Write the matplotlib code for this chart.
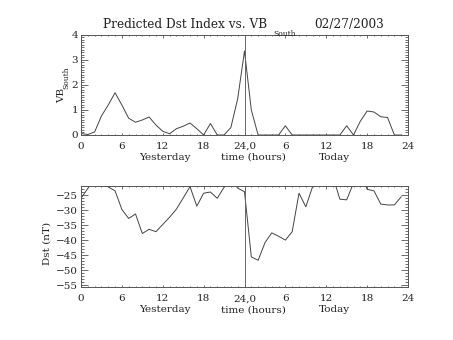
import numpy as np
import matplotlib.pyplot as plt
import matplotlib.transforms as mtransforms
from matplotlib.ticker import MultipleLocator

# hourly values, yesterday 0-23 then today 0-23
hours = np.arange(48)
vb_south = [0.06, 0.02, 0.12, 0.76, 1.2, 1.69, 1.2, 0.67, 0.51, 0.6, 0.72, 0.4,
            0.15, 0.05, 0.25, 0.35, 0.48, 0.25, 0.0, 0.46, 0.0, 0.0, 0.3, 1.45,
            3.36, 1.0, 0.0, 0.0, 0.0, 0.0, 0.37, 0.0, 0.0, 0.0, 0.0, 0.0,
            0.0, 0.0, 0.0, 0.37, 0.0, 0.55, 0.96, 0.92, 0.73, 0.7, 0.0, 0.0]
dst = [-26.1, -22.8, -20.0, -20.0, -22.3, -23.6, -29.8, -32.8, -31.3, -37.8, -36.4, -37.2,
       -34.8, -32.4, -29.7, -26.0, -22.2, -28.7, -24.4, -24.0, -26.1, -22.4, -20.0, -22.7,
       -23.9, -45.6, -46.7, -40.9, -37.6, -38.7, -40.0, -37.2, -24.4, -28.9, -22.2, -20.0,
       -20.0, -19.0, -26.4, -26.6, -21.0, -16.0, -23.1, -23.6, -28.0, -28.3, -28.3, -25.6]

tick_pos = [0, 6, 12, 18, 24, 30, 36, 42, 48]
tick_labels = ['0', '6', '12', '18', '24,0', '6', '12', '18', '24']
day_labels = [(12.3, 'Yesterday'), (25.3, 'time (hours)'), (37.2, 'Today')]

W, H = 453, 340
ink = '#444444'
frame = '#555555'
plt.rcParams['font.family'] = 'DejaVu Serif'
plt.rcParams['font.size'] = 7.5

fig = plt.figure(figsize=(W / 100, H / 100), dpi=100)
ax1 = fig.add_axes([81 / W, 1 - 135 / H, 327 / W, 100 / H])
ax2 = fig.add_axes([81 / W, 1 - 287.3 / H, 327 / W, 101.3 / H])


def style_axis(ax, ylim, ymajor, yminor):
    ax.set_xlim(0, 48)
    ax.set_ylim(*ylim)
    ax.axvline(24, color='#666666', lw=0.7)
    ax.set_xticks(tick_pos)
    ax.set_xticklabels(tick_labels)
    ax.xaxis.set_minor_locator(MultipleLocator(1))
    ax.yaxis.set_major_locator(MultipleLocator(ymajor))
    ax.yaxis.set_minor_locator(MultipleLocator(yminor))
    ax.tick_params(which='both', direction='in', top=True, right=True,
                   color=frame, width=0.6, labelcolor='#222222')
    ax.tick_params(axis='x', which='major', length=1.8, pad=5)
    ax.tick_params(axis='x', which='minor', length=0.9)
    ax.tick_params(axis='y', which='major', length=4.7, pad=2)
    ax.tick_params(axis='y', which='minor', length=2.4)
    for sp in ax.spines.values():
        sp.set_color(frame)
        sp.set_linewidth(0.7)
    trans = mtransforms.blended_transform_factory(ax.transData, ax.transAxes)
    ybase = -25 / (ax.get_position().height * H)
    for x, txt in day_labels:
        ax.text(x, ybase, txt, transform=trans, ha='center', va='baseline',
                color='#222222')


ax1.plot(hours, vb_south, color=ink, lw=0.7)
style_axis(ax1, (0, 4), 1, 0.1)

ax2.plot(hours, dst, color=ink, lw=0.7)
style_axis(ax2, (-55.7, -22), 5, 1)

# title with a dropped subscript, IDL style
fig.text(185.5 / W, 1 - 28 / H, 'Predicted Dst Index vs. VB', ha='center', va='baseline',
         size=8.7, color='#222222')
fig.text(273 / W, 1 - 36 / H, 'South', ha='left', va='baseline', size=5.5, color='#222222')
fig.text(384 / W, 1 - 28 / H, '02/27/2003', ha='right', va='baseline', size=8.7,
         color='#222222')

# y axis labels
fig.text(61.5 / W, 1 - 95 / H, 'VB', rotation=90, ha='center', va='center', color='#222222')
fig.text(66.5 / W, 1 - 77.5 / H, 'South', rotation=90, ha='center', va='center', size=5.5,
         color='#222222')
fig.text(47 / W, 1 - 243 / H, 'Dst (nT)', rotation=90, ha='center', va='center',
         color='#222222')

fig.savefig('out.png', dpi=100, facecolor='white')
